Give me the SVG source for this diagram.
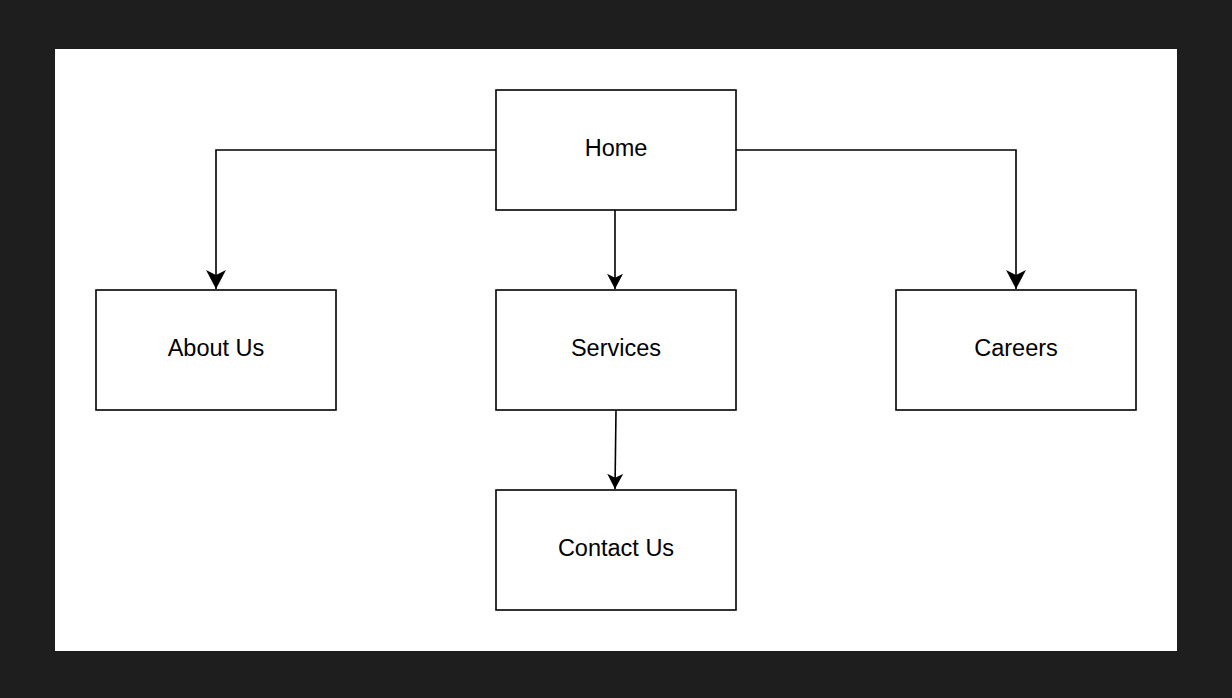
<svg xmlns="http://www.w3.org/2000/svg" width="1232" height="698" viewBox="0 0 1232 698">
<style>
.box{fill:#fff;stroke:#000;stroke-width:1.6}
.lbl{font-family:"Liberation Sans",Arial,sans-serif;font-size:23.5px;fill:#000;text-anchor:middle;dominant-baseline:central}
.edge{fill:none;stroke:#000;stroke-width:1.6}
</style>
<defs>
<marker id="arr" viewBox="0 0 20 20" refX="19" refY="10" markerWidth="20" markerHeight="20" markerUnits="userSpaceOnUse" orient="auto">
<path d="M19,10 L0,0 L5,10 L0,20 Z" fill="#000"/>
</marker>
<marker id="arrs" viewBox="0 0 20 20" refX="19" refY="10" markerWidth="16" markerHeight="16" markerUnits="userSpaceOnUse" orient="auto">
<path d="M19,10 L0,0 L5,10 L0,20 Z" fill="#000"/>
</marker>
</defs>
<rect x="0" y="0" width="1232" height="698" fill="#1e1e1e"/>
<rect x="55" y="49" width="1122" height="602" fill="#fff"/>
<g id="connectors">
<path class="edge" d="M496,150 L216,150 L216,289" marker-end="url(#arr)"/>
<path class="edge" d="M736,150 L1016,150 L1016,289" marker-end="url(#arr)"/>
<path class="edge" d="M615,210 L615,289" marker-end="url(#arrs)"/>
<path class="edge" d="M616,410 L615,489" marker-end="url(#arrs)"/>
</g>
<g id="home"><rect class="box" x="496" y="90" width="240" height="120"/><text class="lbl" x="616" y="148">Home</text></g>
<g id="about"><rect class="box" x="96" y="290" width="240" height="120"/><text class="lbl" x="216" y="348">About Us</text></g>
<g id="services"><rect class="box" x="496" y="290" width="240" height="120"/><text class="lbl" x="616" y="348">Services</text></g>
<g id="careers"><rect class="box" x="896" y="290" width="240" height="120"/><text class="lbl" x="1016" y="348">Careers</text></g>
<g id="contact"><rect class="box" x="496" y="490" width="240" height="120"/><text class="lbl" x="616" y="548">Contact Us</text></g>
</svg>
